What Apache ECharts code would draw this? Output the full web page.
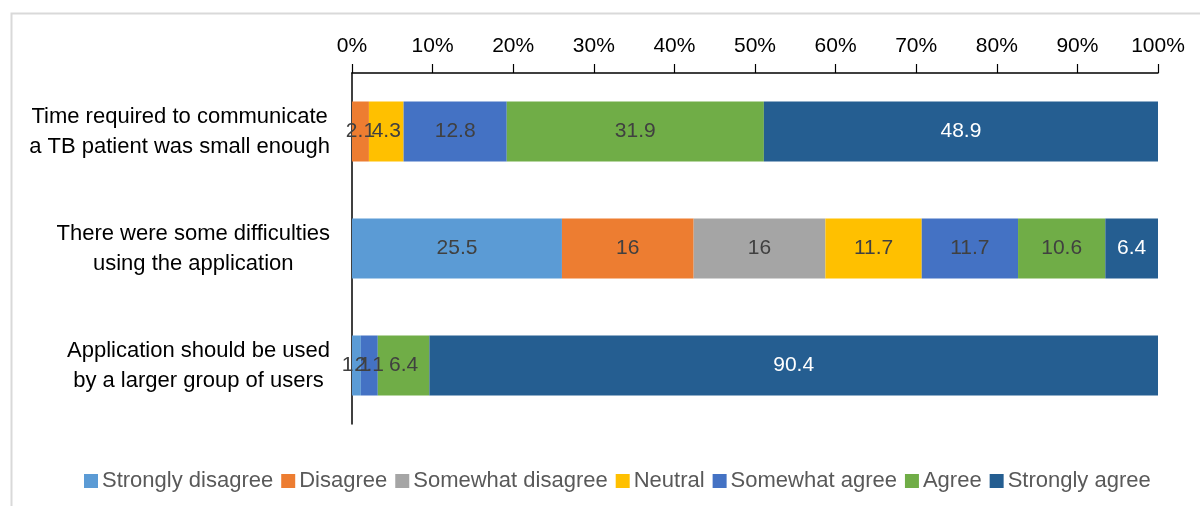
<!DOCTYPE html>
<html>
<head>
<meta charset="utf-8">
<script src="https://cdn.jsdelivr.net/npm/echarts@6/dist/echarts.min.js"></script>
<style>html,body{margin:0;padding:0;background:#fff;}#c{width:1200px;height:506px;}</style>
</head>
<body>
<div id="c"></div>
<script>
const categories = [
  "Time required to communicate\na TB patient was small enough",
  "There were some difficulties\nusing the application",
  "Application should be used\nby a larger group of users"
];
const seriesNames = ["Strongly disagree", "Disagree", "Somewhat disagree", "Neutral", "Somewhat agree", "Agree", "Strongly agree"];
const stronglyDisagree = [null, 25.5, 1.1];
const disagree = [2.1, 16, null];
const somewhatDisagree = [null, 16, null];
const neutral = [4.3, 11.7, null];
const somewhatAgree = [12.8, 11.7, 2.1];
const agree = [31.9, 10.6, 6.4];
const stronglyAgree = [48.9, 6.4, 90.4];
const xTicks = [0, 10, 20, 30, 40, 50, 60, 70, 80, 90, 100];

const colors = ["#5B9BD5", "#ED7D31", "#A5A5A5", "#FFC000", "#4472C4", "#70AD47", "#255E91"];
const raw = [stronglyDisagree, disagree, somewhatDisagree, neutral, somewhatAgree, agree, stronglyAgree];
const totals = categories.map((_, i) => raw.reduce((s, arr) => s + (arr[i] || 0), 0));

const series = seriesNames.map((name, k) => ({
  name: name,
  type: 'bar',
  stack: 'total',
  barWidth: 60,
  itemStyle: { color: colors[k] },
  label: {
    show: true,
    position: 'inside',
    color: k === 6 ? '#ffffff' : '#404040',
    fontFamily: 'Liberation Sans, Arial, sans-serif',
    fontSize: 21,
    formatter: p => String(raw[k][p.dataIndex])
  },
  data: raw[k].map((v, i) => v == null ? null : v / totals[i] * 100)
}));

const chart = echarts.init(document.getElementById('c'), null, { renderer: 'canvas' });
chart.setOption({
  animation: false,
  backgroundColor: '#ffffff',
  graphic: [{
    type: 'rect', left: 9, top: 11, silent: true,
    shape: { x: 0, y: 0, width: 1400, height: 700 },
    style: { fill: 'none', stroke: '#d9d9d9', lineWidth: 2 }
  }],
  grid: { left: 352, right: 42, top: 73, height: 351 },
  legend: {
    data: seriesNames,
    left: 79, top: 465,
    itemWidth: 14, itemHeight: 14, itemGap: 8,
    icon: 'rect',
    textStyle: { color: '#595959', fontSize: 22, fontFamily: 'Liberation Sans, Arial, sans-serif', padding: [0, 0, 0, -1] }
  },
  xAxis: {
    type: 'value', position: 'top', min: 0, max: 100, interval: 10,
    axisLine: { show: true, lineStyle: { color: '#000000', width: 1.5 } },
    axisTick: { show: true, inside: false, length: 9, lineStyle: { color: '#000000', width: 1.2 } },
    splitLine: { show: false },
    axisLabel: {
      margin: 16, color: '#000000', fontSize: 21,
      fontFamily: 'Liberation Sans, Arial, sans-serif',
      formatter: v => xTicks.includes(v) ? v + '%' : ''
    }
  },
  yAxis: {
    type: 'category', inverse: true, data: categories,
    axisLine: { show: true, lineStyle: { color: '#000000', width: 1.5 } },
    axisTick: { show: false },
    axisLabel: {
      margin: 22, align: 'right', color: '#000000',
      fontSize: 22, lineHeight: 30,
      fontFamily: 'Liberation Sans, Arial, sans-serif',
      formatter: v => v.split('\n').map(s => '{c|' + s + '}').join('\n'),
      rich: { c: { align: 'center', fontSize: 22, lineHeight: 30, color: '#000000', fontFamily: 'Liberation Sans, Arial, sans-serif' } }
    }
  },
  series: series
});
</script>
</body>
</html>
